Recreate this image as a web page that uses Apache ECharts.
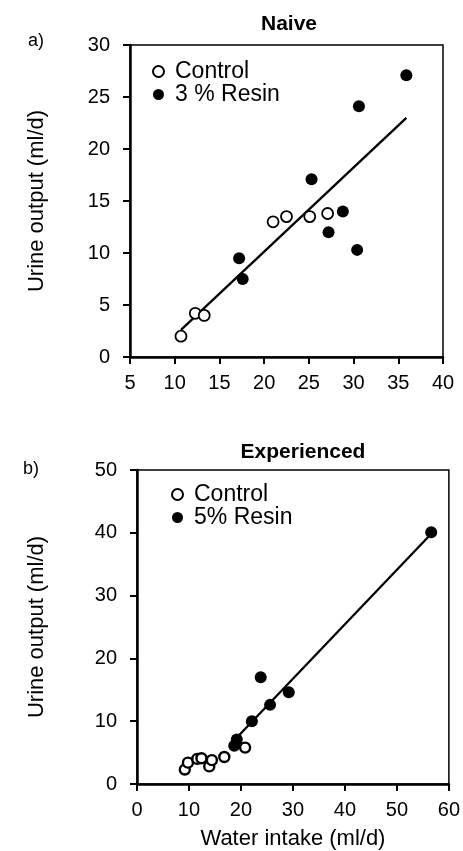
<!DOCTYPE html>
<html><head><meta charset="utf-8">
<script src="https://cdn.jsdelivr.net/npm/echarts@6/dist/echarts.min.js"></script>
<style>html,body{margin:0;padding:0;background:#fff}#c{width:463px;height:851px}</style>
</head><body><div id="c"></div>
<script>
// Panel a) Naive
const naiveControl = [[10.7,2.0],[12.3,4.2],[13.3,4.0],[21.0,13.0],[22.5,13.5],[25.1,13.5],[27.1,13.8]];
const naiveResin = [[17.2,9.5],[17.6,7.5],[25.3,17.1],[27.2,12.0],[28.8,14.0],[30.4,10.3],[30.6,24.1],[35.9,27.1]];
const naiveFit = [[10.7,2.6],[35.9,23.0]];
// Panel b) Experienced
const expControl = [[9.2,2.3],[9.8,3.4],[11.6,4.0],[12.4,4.1],[13.9,2.8],[14.4,3.8],[16.8,4.3],[20.8,5.8]];
const expResin = [[18.7,6.1],[19.2,7.1],[22.1,10.0],[23.8,17.0],[25.6,12.6],[29.2,14.6],[56.6,40.1]];
const expFit = [[18.3,6.6],[56.2,39.5]];
const titles = ['Naive','Experienced'];
const panelLabels = ['a)','b)'];
const legendA = ['Control','3 % Resin'];
const legendB = ['Control','5% Resin'];
const xNameB = 'Water intake (ml/d)';
const yName = 'Urine output (ml/d)';

const FONT = '"Liberation Sans", Arial, Helvetica, sans-serif';
const chart = echarts.init(document.getElementById('c'), null, {renderer:'canvas'});
const axisCommon = {
  axisLine:{show:true, onZero:false, lineStyle:{color:'#000', width:2.5}},
  axisTick:{show:true, inside:false, length:7, lineStyle:{color:'#000', width:2}},
  splitLine:{show:false},
  axisLabel:{color:'#000', fontSize:20, fontFamily:FONT},
  nameTextStyle:{color:'#000', fontSize:22, fontFamily:FONT}
};
function openC(name, data, xi, size, bw){return {name, type:'scatter', xAxisIndex:xi, yAxisIndex:xi, data, symbol:'circle', symbolSize:size, itemStyle:{color:'#fff', borderColor:'#000', borderWidth:bw, opacity:1}, z:3};}
function fillC(name, data, xi, size){return {name, type:'scatter', xAxisIndex:xi, yAxisIndex:xi, data, symbol:'circle', symbolSize:size, itemStyle:{color:'#000', borderColor:'#000', borderWidth:0, opacity:1}, z:4};}
function fit(data, xi){return {type:'line', xAxisIndex:xi, yAxisIndex:xi, data, symbol:'none', lineStyle:{color:'#000', width:2.3}, z:2, silent:true};}

chart.setOption({
  animation:false,
  backgroundColor:'#fff',
  title:[
    {text:titles[0], left:284, top:9, textAlign:'center', textStyle:{fontSize:21, fontWeight:'bold', color:'#000', fontFamily:FONT}},
    {text:titles[1], left:298, top:437, textAlign:'center', textStyle:{fontSize:21, fontWeight:'bold', color:'#000', fontFamily:FONT}},
    {text:panelLabels[0], left:23, top:27, textStyle:{fontSize:18, fontWeight:'normal', color:'#000', fontFamily:FONT}},
    {text:panelLabels[1], left:18, top:455, textStyle:{fontSize:18, fontWeight:'normal', color:'#000', fontFamily:FONT}}
  ],
  legend:[
    {data:[{name:legendA[0], icon:'circle'},{name:legendA[1], icon:'circle'}], orient:'vertical', left:147, top:55, itemWidth:11, itemHeight:11, itemGap:0, textStyle:{fontSize:23, color:'#000', fontFamily:FONT, lineHeight:22, padding:[0,0,0,6]}},
    {data:[{name:legendB[0], icon:'circle'},{name:legendB[1], icon:'circle'}], orient:'vertical', left:166, top:478, itemWidth:11, itemHeight:11, itemGap:0, textStyle:{fontSize:23, color:'#000', fontFamily:FONT, lineHeight:23, padding:[0,0,0,6]}}
  ],
  grid:[
    {left:130, right:20, top:45, height:312, show:true, borderColor:'#000', borderWidth:1.5, backgroundColor:'transparent'},
    {left:137, right:12, top:470, height:315, show:true, borderColor:'#000', borderWidth:1.5, backgroundColor:'transparent'}
  ],
  xAxis:[
    Object.assign({}, axisCommon, {gridIndex:0, type:'value', min:5, max:40, interval:5, axisLabel:Object.assign({}, axisCommon.axisLabel, {margin:16})}),
    Object.assign({}, axisCommon, {gridIndex:1, type:'value', min:0, max:60, interval:10, name:xNameB, nameLocation:'middle', nameGap:44, axisLabel:Object.assign({}, axisCommon.axisLabel, {margin:16})})
  ],
  yAxis:[
    Object.assign({}, axisCommon, {gridIndex:0, type:'value', min:0, max:30, interval:5, name:yName, nameLocation:'middle', nameGap:82, axisLabel:Object.assign({}, axisCommon.axisLabel, {margin:20})}),
    Object.assign({}, axisCommon, {gridIndex:1, type:'value', min:0, max:50, interval:10, name:yName, nameLocation:'middle', nameGap:89, axisLabel:Object.assign({}, axisCommon.axisLabel, {margin:20})})
  ],
  series:[
    fit(naiveFit,0),
    openC(legendA[0], naiveControl, 0, 11, 1.8),
    fillC(legendA[1], naiveResin, 0, 12),
    fit(expFit,1),
    openC(legendB[0], expControl, 1, 10, 2.4),
    fillC(legendB[1], expResin, 1, 12)
  ]
});
</script></body></html>
